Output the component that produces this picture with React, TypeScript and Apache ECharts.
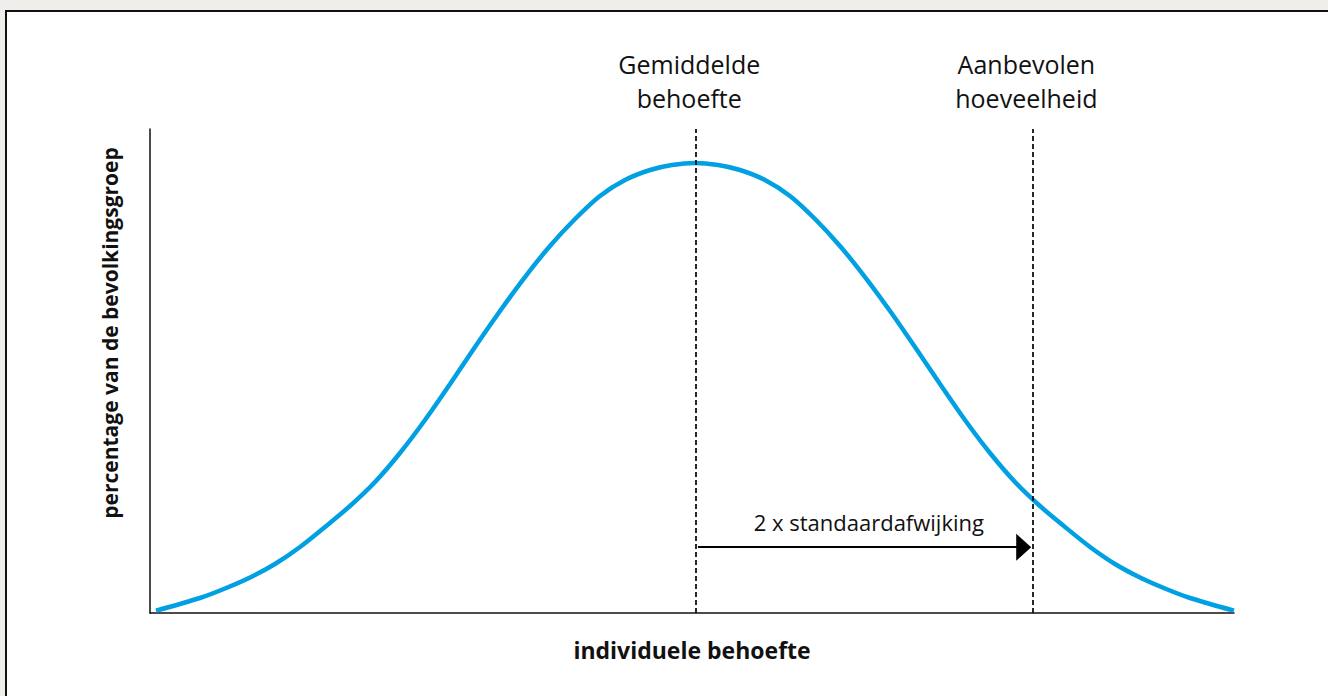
import React, { useEffect, useRef } from "react";
import * as echarts from "echarts";

// Curve (x: individuele behoefte 0–100, y: percentage 0–100)
const curveX = [0.55, 4.61, 6.92, 9.23, 11.53, 13.84, 16.14, 18.45, 20.76, 23.06, 25.37, 27.68, 29.98, 32.29, 34.59, 36.9, 39.21, 41.51, 43.82, 46.13, 48.15, 50.28, 52.4, 54.43, 56.73, 59.04, 61.35, 63.65, 65.96, 68.27, 70.57, 72.88, 75.18, 77.49, 79.8, 82.1, 84.41, 86.72, 89.02, 91.33, 93.63, 95.94, 100];
const curveY = [0.48, 3.1, 5.06, 7.33, 10.12, 13.64, 17.77, 22.11, 27.07, 33.06, 39.88, 47.31, 54.96, 62.4, 69.42, 75.83, 81.4, 86.16, 89.46, 91.53, 92.56, 92.98, 92.56, 91.53, 89.46, 86.16, 81.4, 75.83, 69.42, 62.4, 54.96, 47.31, 39.88, 33.06, 27.07, 22.11, 17.77, 13.64, 10.12, 7.33, 5.06, 3.1, 0.48];

const refLineX = [50.3, 81.4];
const refLineLabels = ["Gemiddelde\nbehoefte", "Aanbevolen\nhoeveelheid"];
const arrowY = 13.6;
const arrowLabel = "2 x standaardafwijking";
const xTitle = "individuele behoefte";
const yTitle = "percentage van de bevolkingsgroep";

const FONT = "'Open Sans', 'Noto Sans', sans-serif";

export default function App() {
  const ref = useRef<HTMLDivElement>(null);
  useEffect(() => {
    document.body.style.margin = "0";
    const chart = echarts.init(ref.current!, null, { renderer: "svg" });
    const data = curveX.map((x, i) => [x, curveY[i]]);
    chart.setOption({
      animation: false,
      backgroundColor: "#efeeea",
      textStyle: { fontFamily: FONT },
      graphic: [
        {
          type: "rect",
          z: -100,
          silent: true,
          shape: { x: 6, y: 11, width: 1400, height: 800 },
          style: { fill: "#ffffff", stroke: "#111111", lineWidth: 2 },
        },
      ],
      grid: { left: 150, right: 94, top: 129, bottom: 83 },
      xAxis: {
        type: "value",
        min: 0,
        max: 100,
        name: xTitle,
        nameLocation: "middle",
        nameGap: 25,
        nameTextStyle: { fontSize: 23, fontWeight: "bold", color: "#111", fontFamily: FONT },
        axisLine: { show: true, lineStyle: { color: "#111", width: 1.5 } },
        axisTick: { show: false },
        axisLabel: { show: false },
        splitLine: { show: false },
      },
      yAxis: {
        type: "value",
        min: 0,
        max: 100,
        name: yTitle,
        nameLocation: "middle",
        nameGap: 30,
        nameTextStyle: { fontSize: 21, fontWeight: "bold", color: "#111", fontFamily: FONT, padding: [0, 0, 0, 76] },
        axisLine: { show: true, lineStyle: { color: "#111", width: 1.5 } },
        axisTick: { show: false },
        axisLabel: { show: false },
        splitLine: { show: false },
      },
      series: [
        {
          type: "line",
          data,
          smooth: 0.3,
          showSymbol: false,
          symbol: "none",
          lineStyle: { color: "#00a0e3", width: 4.5 },
          markLine: {
            silent: true,
            symbol: ["none", "none"],
            data: [
              ...refLineX.map((x, i) => ({
                xAxis: x,
                lineStyle: { type: [5, 3], color: "#111", width: 1.8 },
                label: {
                  show: true,
                  position: "end",
                  formatter: refLineLabels[i],
                  fontSize: 25,
                  lineHeight: 34,
                  color: "#111",
                  fontFamily: FONT,
                  distance: 14,
                  offset: [-6, 0],
                },
              })),
              [
                {
                  coord: [refLineX[0] + 0.25, arrowY],
                  symbol: "none",
                  lineStyle: { type: "solid", color: "#000", width: 2 },
                  label: {
                    show: true,
                    position: "insideMiddleTop",
                    formatter: arrowLabel,
                    fontSize: 22,
                    color: "#111",
                    fontFamily: FONT,
                    distance: 14,
                    offset: [8, 0],
                  },
                },
                {
                  coord: [refLineX[1] - 0.8, arrowY],
                  symbol: "triangle",
                  symbolSize: [27, 15],
                },
              ],
            ],
          },
        },
      ],
    });
    return () => chart.dispose();
  }, []);
  return (
    <div
      ref={ref}
      style={{ position: "fixed", left: 0, top: 0, width: 1328, height: 696 }}
    />
  );
}
